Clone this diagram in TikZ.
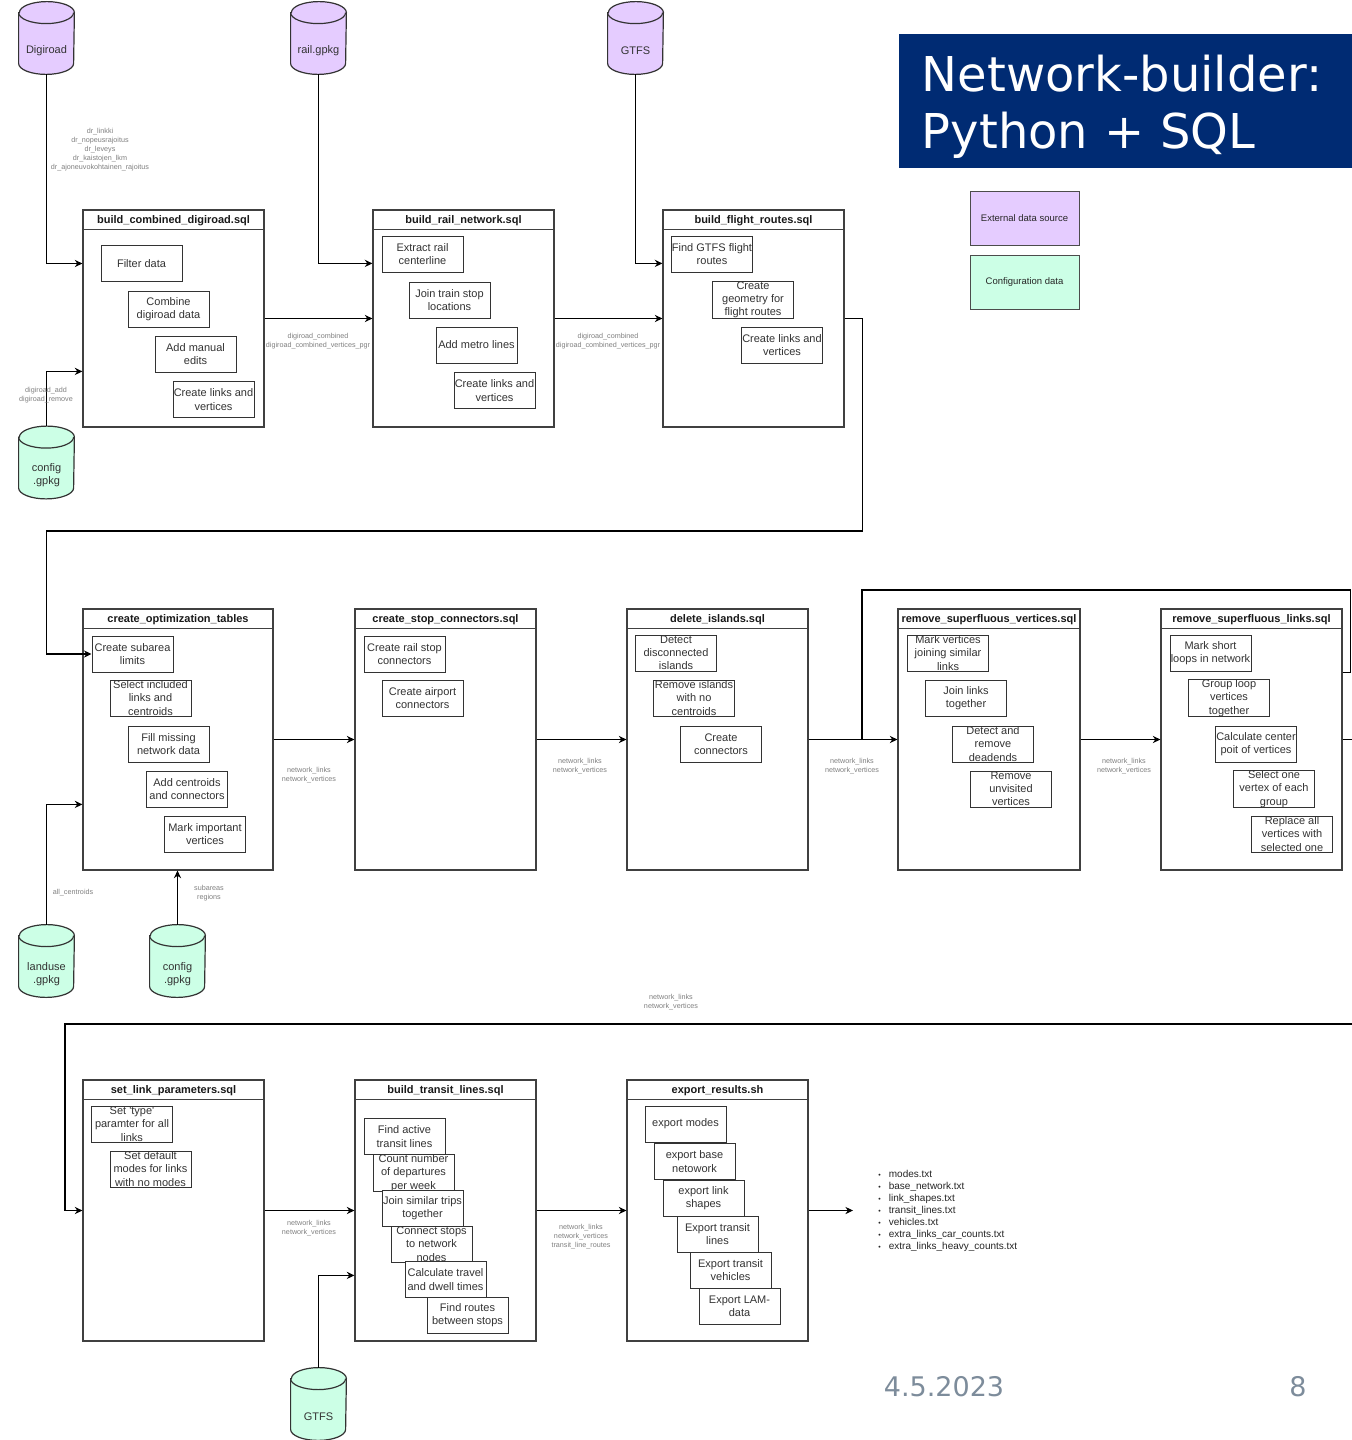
\documentclass[tikz,border=0pt]{standalone}
\usepackage{fontspec}
\setmainfont{Liberation Sans}
\newfontfamily\verdanafont{DejaVu Sans}
\usetikzlibrary{arrows.meta}

\definecolor{extcol}{RGB}{229,204,255}
\definecolor{confcol}{RGB}{204,255,230}
\definecolor{navy}{RGB}{0,43,115}
\definecolor{datecol}{RGB}{125,140,155}

\newcommand{\boxfont}{\fontsize{5.5}{6.6}\selectfont}
\newcommand{\headfont}{\fontsize{5.5}{6.6}\selectfont\bfseries}
\newcommand{\lblfont}{\fontsize{3.6}{4.5}\selectfont}

\tikzset{
  proc/.style={draw=black!75, line width=0.6pt, inner sep=0pt},
  head/.style={font=\headfont, text=black!90, inner sep=0pt},
  task/.style={draw=black!80, fill=white, line width=0.5pt, align=center,
    font=\boxfont, text=black!80, minimum width=40.5pt, minimum height=18pt,
    inner xsep=0.3pt, inner ysep=0.3pt},
  dbbox/.style={minimum width=27.5pt, minimum height=36pt, inner sep=0pt},
  dbline/.style={draw=black!80, line width=0.6pt},
  dbtext/.style={align=center, font=\boxfont, text=black!80, inner sep=0pt},
  legend/.style={draw=black!70, line width=0.5pt, minimum width=54.5pt,
    minimum height=27pt, font=\fontsize{4.75}{5.5}\selectfont, text=black!85},
  lbl/.style={font=\lblfont, text=black!50, align=center, inner sep=0pt},
  flow/.style={-{Stealth[length=3.8pt, width=3.6pt]}, line width=0.55pt},
  link/.style={line width=0.55pt}
}

\begin{document}
\begin{tikzpicture}[x=0.5pt, y=-0.5pt]
    \useasboundingbox (0,0) rectangle (1352,1440);
    \fill[white] (0,0) rectangle (1352,1440);
    % Title and legend
    \node[anchor=north west, fill=navy, minimum width=226.5pt, minimum height=67pt,
      text width=204pt, inner xsep=11pt, align=left, text=white,
      font=\verdanafont\fontsize{24}{28.5}\selectfont] (title) at (899,34)
      {\raisebox{-3.5pt}[\height][\depth]{\begin{tabular}{@{}l@{}}Network-builder:\\Python + SQL\end{tabular}}};
    \node[legend, fill=extcol] (legext) at (1024.5,218) {External data source};
    \node[legend, fill=confcol] (legconf) at (1024.5,282) {Configuration data};
    % Scripts
    \foreach \n/\x/\y/\w/\h/\ttl in {
        comb/173.5/318.5/90.5/108.5/build\_combined\_digiroad.sql,
        railb/463.5/318.5/90.5/108.5/build\_rail\_network.sql,
        flight/753.5/318.5/90.5/108.5/build\_flight\_routes.sql,
        opt/178/739.5/95/130.5/create\_optimization\_tables,
        stop/445.5/739.5/90.5/130.5/create\_stop\_connectors.sql,
        isl/717.5/739.5/90.5/130.5/delete\_islands.sql,
        supv/989/739.5/91/130.5/remove\_superfluous\_vertices.sql,
        supl/1251.5/739.5/90.5/130.5/remove\_superfluous\_links.sql,
        param/173.5/1210.5/90.5/130.5/set\_link\_parameters.sql,
        transit/445.5/1210.5/90.5/130.5/build\_transit\_lines.sql,
        export/717.5/1210.5/90.5/130.5/export\_results.sh} {
        \node[proc, minimum width=\w pt, minimum height=\h pt] (\n) at (\x,\y) {};
        \draw[proc] ([yshift=-10pt]\n.north west) -- ([yshift=-10pt]\n.north east);
        \node[head] (\n-t) at ([yshift=-5.5pt]\n.north) {\ttl};
    }
    % build_combined_digiroad
    \node[task] (filter) at (141.5,263.5) {Filter data};
    \node[task] (combine) at (168.5,309) {Combine\\digiroad data};
    \node[task] (manual) at (195.5,354) {Add manual\\edits};
    \node[task] (dlinks) at (213.5,399.5) {Create links and\\vertices};
    % build_rail_network
    \node[task] (extract) at (422.5,254) {Extract rail\\centerline};
    \node[task] (trainstop) at (449.5,300) {Join train stop\\locations};
    \node[task] (metro) at (476.5,345) {Add metro lines};
    \node[task] (rlinks) at (494.5,390.5) {Create links and\\vertices};
    % build_flight_routes
    \node[task] (findflight) at (712,254) {Find GTFS flight\\routes};
    \node[task] (geom) at (753,300) {Create\\geometry for\\flight routes};
    \node[task] (flinks) at (782,345) {Create links and\\vertices};
    % create_optimization_tables
    \node[task] (subarea) at (132.5,654) {Create subarea\\limits};
    \node[task] (included) at (150.5,698) {Select included\\links and\\centroids};
    \node[task] (fill) at (168.5,744) {Fill missing\\network data};
    \node[task] (centroids) at (187,789) {Add centroids\\and connectors};
    \node[task] (important) at (205,834) {Mark important\\vertices};
    % create_stop_connectors
    \node[task] (railstop) at (404.5,654) {Create rail stop\\connectors};
    \node[task] (airport) at (422.5,698) {Create airport\\connectors};
    % delete_islands
    \node[task] (detect) at (676,653) {Detect\\disconnected\\islands};
    \node[task] (remisl) at (694,698) {Remove islands\\with no\\centroids};
    \node[task] (conn) at (721,744) {Create\\connectors};
    % remove_superfluous_vertices
    \node[task] (markv) at (948,653) {Mark vertices\\joining similar\\links};
    \node[task] (joinl) at (966,698) {Join links\\together};
    \node[task] (dead) at (993,744) {Detect and\\remove\\deadends};
    \node[task] (unvis) at (1011,789) {Remove\\unvisited\\vertices};
    % remove_superfluous_links
    \node[task] (loops) at (1210.5,653) {Mark short\\loops in network};
    \node[task] (group) at (1229,698) {Group loop\\vertices\\together};
    \node[task] (center) at (1256,744) {Calculate center\\poit of vertices};
    \node[task] (selone) at (1274,789) {Select one\\vertex of each\\group};
    \node[task] (replace) at (1292,834) {Replace all\\vertices with\\selected one};
    % set_link_parameters
    \node[task] (settype) at (132,1124) {Set \textquotesingle type\textquotesingle\\paramter for all\\links};
    \node[task] (setmodes) at (150.5,1169) {Set default\\modes for links\\with no modes};
    % build_transit_lines
    \node[task] (active) at (404.5,1136.5) {Find active\\transit lines};
    \node[task] (count) at (413.5,1173) {Count number\\of departures\\per week};
    \node[task] (trips) at (422.5,1208.5) {Join similar trips\\together};
    \node[task] (stops) at (431.5,1244) {Connect stops\\to network\\nodes};
    \node[task] (times) at (445.5,1279.5) {Calculate travel\\and dwell times};
    \node[task] (routes) at (467.5,1315) {Find routes\\between stops};
    % export_results
    \node[task] (emodes) at (685.5,1124) {export modes};
    \node[task] (ebase) at (694.5,1161.5) {export base\\netowork};
    \node[task] (eshapes) at (703.5,1198) {export link\\shapes};
    \node[task] (elines) at (717.5,1234) {Export transit\\lines};
    \node[task] (evehicles) at (730.5,1270) {Export transit\\vehicles};
    \node[task] (elam) at (739.5,1306) {Export LAM-\\data};
    % Data sources (cylinders)
    \foreach \n/\x/\y/\col/\txt in {
        digiroad/46.5/38/extcol/Digiroad,
        railgpkg/318.5/38/extcol/rail.gpkg,
        gtfs/635.5/38/extcol/GTFS,
        confa/46.5/462.5/confcol/config\\.gpkg,
        landuse/46.5/961/confcol/landuse\\.gpkg,
        confb/177.5/961/confcol/config\\.gpkg,
        gtfsb/318.5/1404/confcol/GTFS} {
        \node[dbbox] (\n) at (\x,\y) {};
        \filldraw[dbline, fill=\col] ([yshift=-5.5pt]\n.north west)
            -- ([yshift=5.5pt]\n.south west)
            arc[start angle=180, end angle=360, x radius=13.75pt, y radius=5.5pt]
            -- ([yshift=-5.5pt]\n.north east)
            arc[start angle=0, end angle=180, x radius=13.75pt, y radius=5.5pt] -- cycle;
        \draw[dbline] ([yshift=-5.5pt]\n.north west)
            arc[start angle=180, end angle=360, x radius=13.75pt, y radius=5.5pt];
        \node[dbtext] (\n-t) at ([yshift=-6.5pt]\n.center) {\txt};
    }
    % Output files
    \node[anchor=west, inner xsep=12.5pt, align=left, text=black!85,
      font=\fontsize{5}{6}\selectfont] (files) at (853,1210.5)
      {{\fontsize{3.5}{6}\selectfont\textbullet}\hspace{4pt}modes.txt\\
       {\fontsize{3.5}{6}\selectfont\textbullet}\hspace{4pt}base\_network.txt\\
       {\fontsize{3.5}{6}\selectfont\textbullet}\hspace{4pt}link\_shapes.txt\\
       {\fontsize{3.5}{6}\selectfont\textbullet}\hspace{4pt}transit\_lines.txt\\
       {\fontsize{3.5}{6}\selectfont\textbullet}\hspace{4pt}vehicles.txt\\
       {\fontsize{3.5}{6}\selectfont\textbullet}\hspace{4pt}extra\_links\_car\_counts.txt\\
       {\fontsize{3.5}{6}\selectfont\textbullet}\hspace{4pt}extra\_links\_heavy\_counts.txt};
    % Connectors, top row
    \draw[flow] (digiroad.south) |- (comb.west |- filter.west);
    \draw[flow] (railgpkg.south) |- ([yshift=-27pt]railb.north west);
    \draw[flow] (gtfs.south) |- ([yshift=-27pt]flight.north west);
    \draw[flow] (confa.north) |- ([yshift=-81pt]comb.north west);
    \draw[flow] (comb.east) -- (railb.west);
    \draw[flow] (railb.east) -- (flight.west);
    \draw[flow] (flight.east) -- ++(18,0) |- (46.5,531) |- (subarea.west);
    % Connectors, middle row
    \draw[flow] (landuse.north) |- ([yshift=-98pt]opt.north west);
    \draw[flow] (confb.north) -- (confb.north |- opt.south);
    \draw[flow] (opt.east) -- (stop.west);
    \draw[flow] (stop.east) -- (isl.west);
    \draw[flow] (isl.east) -- (supv.west);
    \draw[flow] (supv.east) -- (supl.west);
    \draw[link] ([yshift=-32pt]supl.north east) -- ++(8,0) |- (862,590) -- (862,739.5);
    % Connectors, bottom row
    \draw[flow] (supl.east) -- ++(30,0) |- (65,1024) |- (param.west);
    \draw[flow] (param.east) -- (transit.west);
    \draw[flow] (gtfsb.north) |- ([yshift=-98pt]transit.north west);
    \draw[flow] (transit.east) -- (export.west);
    \draw[flow] (export.east) -- (files.west);
    % Table names on the connectors
    \node[lbl] (ldr) at (100,150) {dr\_linkki\\dr\_nopeusrajoitus\\dr\_leveys\\dr\_kaistojen\_lkm\\dr\_ajoneuvokohtainen\_rajoitus};
    \node[lbl] (ladd) at (46,395) {digiroad\_add\\digiroad\_remove};
    \node[lbl] (lcomb) at (318,341) {digiroad\_combined\\digiroad\_combined\_vertices\_pgr};
    \node[lbl] (lrail) at (608,341) {digiroad\_combined\\digiroad\_combined\_vertices\_pgr};
    \node[lbl] (lcent) at (73,893) {all\_centroids};
    \node[lbl] (lsub) at (209,893) {subareas\\regions};
    \node[lbl] (lopt) at (309,775.5) {network\_links\\network\_vertices};
    \node[lbl] (lstop) at (580,766) {network\_links\\network\_vertices};
    \node[lbl] (lisl) at (852,766) {network\_links\\network\_vertices};
    \node[lbl] (lsupv) at (1124,766) {network\_links\\network\_vertices};
    \node[lbl] (lsupl) at (671,1002) {network\_links\\network\_vertices};
    \node[lbl] (lparam) at (309,1228) {network\_links\\network\_vertices};
    \node[lbl] (ltransit) at (581,1237) {network\_links\\network\_vertices\\transit\_line\_routes};
    % Footer
    \node[text=datecol, font=\verdanafont\fontsize{13.5}{16}\selectfont] (date) at (944,1387) {4.5.2023};
    \node[text=datecol, font=\verdanafont\fontsize{13.5}{16}\selectfont] (page) at (1298,1387) {8};
\end{tikzpicture}
\end{document}
